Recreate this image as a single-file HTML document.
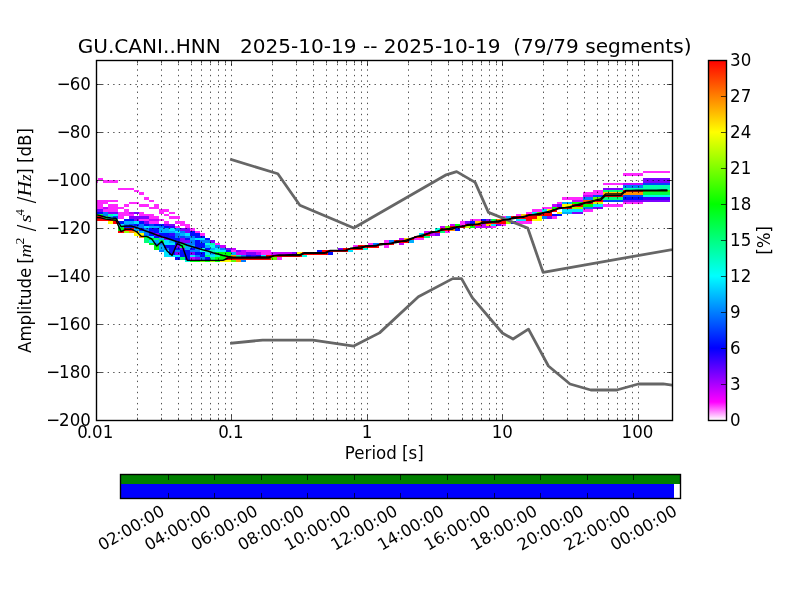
<!DOCTYPE html><html><head><meta charset="utf-8"><title>PPSD</title><style>html,body{margin:0;padding:0;background:#fff;}svg{display:block;will-change:transform;}text{white-space:pre;}</style></head><body>
<svg width="800" height="600" viewBox="0 0 800 600" font-family="&apos;DejaVu Sans&apos;,&apos;Liberation Sans&apos;,sans-serif" font-size="16.67">
<rect x="0" y="0" width="800" height="600" fill="#fff"/>
<defs><clipPath id="ax"><rect x="96.00" y="60.00" width="576.00" height="360.00"/></clipPath>
<linearGradient id="cbg" x1="0" y1="1" x2="0" y2="0">
<stop offset="0.000" stop-color="#ffffff"/>
<stop offset="0.050" stop-color="#ff00ff"/>
<stop offset="0.200" stop-color="#0000ff"/>
<stop offset="0.400" stop-color="#00ffff"/>
<stop offset="0.600" stop-color="#00ff00"/>
<stop offset="0.800" stop-color="#ffff00"/>
<stop offset="1.000" stop-color="#ff0000"/>
</linearGradient></defs>
<g clip-path="url(#ax)" shape-rendering="crispEdges">
<rect x="96" y="216" width="2" height="5" fill="#ff0000"/>
<rect x="96" y="214" width="2" height="2" fill="#00ff42"/>
<rect x="96" y="212" width="2" height="2" fill="#000eff"/>
<rect x="96" y="209" width="2" height="3" fill="#7d00ff"/>
<rect x="96" y="200" width="2" height="9" fill="#ff28ff"/>
<rect x="96" y="180" width="2" height="3" fill="#ff28ff"/>
<rect x="98" y="216" width="5" height="5" fill="#ff0000"/>
<rect x="98" y="214" width="5" height="2" fill="#00ff42"/>
<rect x="98" y="212" width="5" height="2" fill="#000eff"/>
<rect x="98" y="209" width="5" height="3" fill="#7d00ff"/>
<rect x="98" y="200" width="5" height="9" fill="#ff28ff"/>
<rect x="98" y="178" width="5" height="2" fill="#ff28ff"/>
<rect x="103" y="219" width="5" height="2" fill="#ff0000"/>
<rect x="103" y="216" width="5" height="3" fill="#00ff42"/>
<rect x="103" y="212" width="5" height="4" fill="#007aff"/>
<rect x="103" y="209" width="5" height="3" fill="#ff28ff"/>
<rect x="103" y="207" width="5" height="2" fill="#c500ff"/>
<rect x="103" y="200" width="5" height="4" fill="#ff28ff"/>
<rect x="103" y="180" width="5" height="3" fill="#ff28ff"/>
<rect x="108" y="221" width="5" height="3" fill="#fffd00"/>
<rect x="108" y="219" width="5" height="2" fill="#ff0000"/>
<rect x="108" y="216" width="5" height="3" fill="#00afff"/>
<rect x="108" y="214" width="5" height="2" fill="#00ffad"/>
<rect x="108" y="212" width="5" height="2" fill="#7d00ff"/>
<rect x="108" y="204" width="5" height="8" fill="#ff28ff"/>
<rect x="108" y="200" width="5" height="2" fill="#ff28ff"/>
<rect x="108" y="180" width="5" height="3" fill="#ff28ff"/>
<rect x="113" y="221" width="5" height="3" fill="#ff0000"/>
<rect x="113" y="219" width="5" height="2" fill="#00ff42"/>
<rect x="113" y="216" width="5" height="3" fill="#0044ff"/>
<rect x="113" y="214" width="5" height="2" fill="#00ffe3"/>
<rect x="113" y="212" width="5" height="2" fill="#7d00ff"/>
<rect x="113" y="204" width="5" height="8" fill="#ff28ff"/>
<rect x="113" y="200" width="5" height="2" fill="#ff28ff"/>
<rect x="113" y="180" width="5" height="3" fill="#ff28ff"/>
<rect x="118" y="231" width="6" height="2" fill="#ff0000"/>
<rect x="118" y="228" width="6" height="3" fill="#00ff0c"/>
<rect x="118" y="226" width="6" height="2" fill="#00ff42"/>
<rect x="118" y="224" width="6" height="2" fill="#00e5ff"/>
<rect x="118" y="221" width="6" height="3" fill="#000eff"/>
<rect x="118" y="212" width="6" height="7" fill="#ff28ff"/>
<rect x="118" y="207" width="6" height="2" fill="#ff28ff"/>
<rect x="118" y="188" width="6" height="2" fill="#ff28ff"/>
<rect x="124" y="231" width="5" height="2" fill="#96ff00"/>
<rect x="124" y="228" width="5" height="3" fill="#ff0000"/>
<rect x="124" y="226" width="5" height="2" fill="#000eff"/>
<rect x="124" y="224" width="5" height="2" fill="#007aff"/>
<rect x="124" y="221" width="5" height="3" fill="#00afff"/>
<rect x="124" y="219" width="5" height="2" fill="#000eff"/>
<rect x="124" y="209" width="5" height="7" fill="#ff28ff"/>
<rect x="124" y="204" width="5" height="3" fill="#ff28ff"/>
<rect x="124" y="188" width="5" height="2" fill="#ff28ff"/>
<rect x="129" y="231" width="5" height="2" fill="#ff9100"/>
<rect x="129" y="228" width="5" height="3" fill="#ff0000"/>
<rect x="129" y="226" width="5" height="2" fill="#000eff"/>
<rect x="129" y="224" width="5" height="2" fill="#0044ff"/>
<rect x="129" y="221" width="5" height="3" fill="#00afff"/>
<rect x="129" y="219" width="5" height="2" fill="#000eff"/>
<rect x="129" y="216" width="5" height="3" fill="#7d00ff"/>
<rect x="129" y="214" width="5" height="2" fill="#ff28ff"/>
<rect x="129" y="212" width="5" height="2" fill="#c500ff"/>
<rect x="129" y="202" width="5" height="2" fill="#ff28ff"/>
<rect x="129" y="188" width="5" height="2" fill="#ff28ff"/>
<rect x="134" y="233" width="5" height="3" fill="#fffd00"/>
<rect x="134" y="231" width="5" height="2" fill="#ffc700"/>
<rect x="134" y="228" width="5" height="3" fill="#00afff"/>
<rect x="134" y="226" width="5" height="2" fill="#007aff"/>
<rect x="134" y="224" width="5" height="2" fill="#000eff"/>
<rect x="134" y="221" width="5" height="3" fill="#00e5ff"/>
<rect x="134" y="216" width="5" height="5" fill="#7d00ff"/>
<rect x="134" y="212" width="5" height="2" fill="#7d00ff"/>
<rect x="134" y="202" width="5" height="2" fill="#ff28ff"/>
<rect x="134" y="190" width="5" height="2" fill="#ff28ff"/>
<rect x="139" y="236" width="5" height="2" fill="#ff9100"/>
<rect x="139" y="233" width="5" height="3" fill="#fffd00"/>
<rect x="139" y="231" width="5" height="2" fill="#00afff"/>
<rect x="139" y="228" width="5" height="3" fill="#000eff"/>
<rect x="139" y="224" width="5" height="4" fill="#007aff"/>
<rect x="139" y="221" width="5" height="3" fill="#000eff"/>
<rect x="139" y="219" width="5" height="2" fill="#ff28ff"/>
<rect x="139" y="216" width="5" height="3" fill="#7d00ff"/>
<rect x="139" y="212" width="5" height="4" fill="#ff28ff"/>
<rect x="139" y="204" width="5" height="3" fill="#ff28ff"/>
<rect x="139" y="192" width="5" height="3" fill="#ff28ff"/>
<rect x="144" y="238" width="5" height="5" fill="#00ff77"/>
<rect x="144" y="236" width="5" height="2" fill="#00ff0c"/>
<rect x="144" y="228" width="5" height="8" fill="#007aff"/>
<rect x="144" y="226" width="5" height="2" fill="#00e5ff"/>
<rect x="144" y="224" width="5" height="2" fill="#000eff"/>
<rect x="144" y="221" width="5" height="3" fill="#7d00ff"/>
<rect x="144" y="219" width="5" height="2" fill="#ff28ff"/>
<rect x="144" y="216" width="5" height="3" fill="#7d00ff"/>
<rect x="144" y="214" width="5" height="2" fill="#ff28ff"/>
<rect x="144" y="204" width="5" height="3" fill="#ff28ff"/>
<rect x="144" y="197" width="5" height="3" fill="#ff28ff"/>
<rect x="149" y="243" width="5" height="2" fill="#00ff0c"/>
<rect x="149" y="240" width="5" height="3" fill="#00e5ff"/>
<rect x="149" y="238" width="5" height="2" fill="#00ff0c"/>
<rect x="149" y="236" width="5" height="2" fill="#00e5ff"/>
<rect x="149" y="233" width="5" height="3" fill="#000eff"/>
<rect x="149" y="231" width="5" height="2" fill="#3500ff"/>
<rect x="149" y="228" width="5" height="3" fill="#000eff"/>
<rect x="149" y="226" width="5" height="2" fill="#00afff"/>
<rect x="149" y="224" width="5" height="2" fill="#0044ff"/>
<rect x="149" y="221" width="5" height="3" fill="#ff28ff"/>
<rect x="149" y="219" width="5" height="2" fill="#c500ff"/>
<rect x="149" y="214" width="5" height="5" fill="#ff28ff"/>
<rect x="149" y="207" width="5" height="2" fill="#ff28ff"/>
<rect x="149" y="200" width="5" height="2" fill="#ff28ff"/>
<rect x="154" y="245" width="5" height="5" fill="#00ff0c"/>
<rect x="154" y="243" width="5" height="2" fill="#007aff"/>
<rect x="154" y="240" width="5" height="3" fill="#00afff"/>
<rect x="154" y="238" width="5" height="2" fill="#00ff77"/>
<rect x="154" y="236" width="5" height="2" fill="#000eff"/>
<rect x="154" y="233" width="5" height="3" fill="#7d00ff"/>
<rect x="154" y="228" width="5" height="5" fill="#000eff"/>
<rect x="154" y="226" width="5" height="2" fill="#00afff"/>
<rect x="154" y="224" width="5" height="2" fill="#000eff"/>
<rect x="154" y="221" width="5" height="3" fill="#ff28ff"/>
<rect x="154" y="219" width="5" height="2" fill="#c500ff"/>
<rect x="154" y="216" width="5" height="3" fill="#ff28ff"/>
<rect x="154" y="204" width="5" height="5" fill="#ff28ff"/>
<rect x="159" y="250" width="5" height="2" fill="#007aff"/>
<rect x="159" y="245" width="5" height="5" fill="#00afff"/>
<rect x="159" y="243" width="5" height="2" fill="#007aff"/>
<rect x="159" y="240" width="5" height="3" fill="#00ff42"/>
<rect x="159" y="238" width="5" height="2" fill="#00afff"/>
<rect x="159" y="236" width="5" height="2" fill="#7d00ff"/>
<rect x="159" y="233" width="5" height="3" fill="#000eff"/>
<rect x="159" y="228" width="5" height="5" fill="#00afff"/>
<rect x="159" y="226" width="5" height="2" fill="#007aff"/>
<rect x="159" y="224" width="5" height="2" fill="#000eff"/>
<rect x="159" y="219" width="5" height="2" fill="#ff28ff"/>
<rect x="159" y="209" width="5" height="5" fill="#ff28ff"/>
<rect x="164" y="250" width="5" height="7" fill="#00e5ff"/>
<rect x="164" y="248" width="5" height="2" fill="#007aff"/>
<rect x="164" y="245" width="5" height="3" fill="#000eff"/>
<rect x="164" y="240" width="5" height="5" fill="#00e5ff"/>
<rect x="164" y="238" width="5" height="2" fill="#7d00ff"/>
<rect x="164" y="233" width="5" height="5" fill="#000eff"/>
<rect x="164" y="228" width="5" height="5" fill="#00afff"/>
<rect x="164" y="226" width="5" height="2" fill="#000eff"/>
<rect x="164" y="224" width="5" height="2" fill="#7d00ff"/>
<rect x="164" y="221" width="5" height="3" fill="#ff28ff"/>
<rect x="164" y="214" width="5" height="2" fill="#ff28ff"/>
<rect x="164" y="209" width="5" height="3" fill="#ff28ff"/>
<rect x="169" y="255" width="6" height="2" fill="#00e5ff"/>
<rect x="169" y="245" width="6" height="10" fill="#000eff"/>
<rect x="169" y="243" width="6" height="2" fill="#00e5ff"/>
<rect x="169" y="240" width="6" height="3" fill="#00afff"/>
<rect x="169" y="236" width="6" height="4" fill="#000eff"/>
<rect x="169" y="233" width="6" height="3" fill="#3500ff"/>
<rect x="169" y="231" width="6" height="2" fill="#00afff"/>
<rect x="169" y="228" width="6" height="3" fill="#00e5ff"/>
<rect x="169" y="226" width="6" height="2" fill="#3500ff"/>
<rect x="169" y="224" width="6" height="2" fill="#7d00ff"/>
<rect x="169" y="216" width="6" height="3" fill="#ff28ff"/>
<rect x="169" y="212" width="6" height="2" fill="#ff28ff"/>
<rect x="175" y="257" width="5" height="3" fill="#000eff"/>
<rect x="175" y="255" width="5" height="2" fill="#00e5ff"/>
<rect x="175" y="252" width="5" height="3" fill="#7d00ff"/>
<rect x="175" y="250" width="5" height="2" fill="#007aff"/>
<rect x="175" y="248" width="5" height="2" fill="#000eff"/>
<rect x="175" y="245" width="5" height="3" fill="#7d00ff"/>
<rect x="175" y="238" width="5" height="7" fill="#000eff"/>
<rect x="175" y="233" width="5" height="5" fill="#007aff"/>
<rect x="175" y="231" width="5" height="2" fill="#00e5ff"/>
<rect x="175" y="228" width="5" height="3" fill="#007aff"/>
<rect x="175" y="226" width="5" height="2" fill="#ff28ff"/>
<rect x="175" y="221" width="5" height="3" fill="#ff28ff"/>
<rect x="175" y="216" width="5" height="3" fill="#ff28ff"/>
<rect x="180" y="257" width="5" height="3" fill="#00ff77"/>
<rect x="180" y="250" width="5" height="7" fill="#000eff"/>
<rect x="180" y="248" width="5" height="2" fill="#7d00ff"/>
<rect x="180" y="245" width="5" height="3" fill="#00ff42"/>
<rect x="180" y="243" width="5" height="2" fill="#00ff77"/>
<rect x="180" y="238" width="5" height="5" fill="#7d00ff"/>
<rect x="180" y="236" width="5" height="2" fill="#0044ff"/>
<rect x="180" y="233" width="5" height="3" fill="#00afff"/>
<rect x="180" y="231" width="5" height="2" fill="#007aff"/>
<rect x="180" y="228" width="5" height="3" fill="#7d00ff"/>
<rect x="180" y="221" width="5" height="5" fill="#ff28ff"/>
<rect x="185" y="260" width="5" height="2" fill="#00ffe3"/>
<rect x="185" y="250" width="5" height="10" fill="#000eff"/>
<rect x="185" y="245" width="5" height="5" fill="#00afff"/>
<rect x="185" y="243" width="5" height="2" fill="#007aff"/>
<rect x="185" y="240" width="5" height="3" fill="#7d00ff"/>
<rect x="185" y="238" width="5" height="2" fill="#000eff"/>
<rect x="185" y="236" width="5" height="2" fill="#007aff"/>
<rect x="185" y="233" width="5" height="3" fill="#00e5ff"/>
<rect x="185" y="228" width="5" height="5" fill="#7d00ff"/>
<rect x="185" y="224" width="5" height="4" fill="#ff28ff"/>
<rect x="190" y="260" width="5" height="2" fill="#00ff0c"/>
<rect x="190" y="257" width="5" height="3" fill="#c500ff"/>
<rect x="190" y="255" width="5" height="2" fill="#00e5ff"/>
<rect x="190" y="252" width="5" height="3" fill="#7d00ff"/>
<rect x="190" y="250" width="5" height="2" fill="#007aff"/>
<rect x="190" y="248" width="5" height="2" fill="#000eff"/>
<rect x="190" y="245" width="5" height="3" fill="#00afff"/>
<rect x="190" y="240" width="5" height="5" fill="#007aff"/>
<rect x="190" y="238" width="5" height="2" fill="#00afff"/>
<rect x="190" y="236" width="5" height="2" fill="#007aff"/>
<rect x="190" y="231" width="5" height="5" fill="#000eff"/>
<rect x="190" y="228" width="5" height="3" fill="#ff28ff"/>
<rect x="195" y="260" width="5" height="2" fill="#00ff0c"/>
<rect x="195" y="257" width="5" height="3" fill="#7d00ff"/>
<rect x="195" y="255" width="5" height="2" fill="#007aff"/>
<rect x="195" y="252" width="5" height="3" fill="#000eff"/>
<rect x="195" y="248" width="5" height="4" fill="#007aff"/>
<rect x="195" y="240" width="5" height="8" fill="#000eff"/>
<rect x="195" y="238" width="5" height="2" fill="#00e5ff"/>
<rect x="195" y="233" width="5" height="5" fill="#000eff"/>
<rect x="195" y="231" width="5" height="2" fill="#ff28ff"/>
<rect x="200" y="260" width="5" height="2" fill="#60ff00"/>
<rect x="200" y="257" width="5" height="3" fill="#007aff"/>
<rect x="200" y="252" width="5" height="5" fill="#000eff"/>
<rect x="200" y="248" width="5" height="4" fill="#00ffe3"/>
<rect x="200" y="243" width="5" height="5" fill="#000eff"/>
<rect x="200" y="240" width="5" height="3" fill="#007aff"/>
<rect x="200" y="238" width="5" height="2" fill="#00e5ff"/>
<rect x="200" y="236" width="5" height="2" fill="#000eff"/>
<rect x="200" y="233" width="5" height="3" fill="#ff28ff"/>
<rect x="205" y="260" width="5" height="2" fill="#00ff0c"/>
<rect x="205" y="257" width="5" height="3" fill="#000eff"/>
<rect x="205" y="255" width="5" height="2" fill="#00ff77"/>
<rect x="205" y="252" width="5" height="3" fill="#00e5ff"/>
<rect x="205" y="250" width="5" height="2" fill="#00ffad"/>
<rect x="205" y="248" width="5" height="2" fill="#000eff"/>
<rect x="205" y="245" width="5" height="3" fill="#00afff"/>
<rect x="205" y="243" width="5" height="2" fill="#00ffe3"/>
<rect x="205" y="240" width="5" height="3" fill="#007aff"/>
<rect x="205" y="238" width="5" height="2" fill="#000eff"/>
<rect x="210" y="260" width="5" height="2" fill="#96ff00"/>
<rect x="210" y="257" width="5" height="3" fill="#00ff77"/>
<rect x="210" y="255" width="5" height="2" fill="#00e5ff"/>
<rect x="210" y="252" width="5" height="3" fill="#00afff"/>
<rect x="210" y="250" width="5" height="2" fill="#00ffad"/>
<rect x="210" y="248" width="5" height="2" fill="#00afff"/>
<rect x="210" y="245" width="5" height="3" fill="#00ffe3"/>
<rect x="210" y="243" width="5" height="2" fill="#00ffad"/>
<rect x="210" y="240" width="5" height="3" fill="#7d00ff"/>
<rect x="215" y="257" width="5" height="5" fill="#00ff0c"/>
<rect x="215" y="255" width="5" height="2" fill="#00ffad"/>
<rect x="215" y="252" width="5" height="3" fill="#00ff0c"/>
<rect x="215" y="250" width="5" height="2" fill="#00ffe3"/>
<rect x="215" y="248" width="5" height="2" fill="#00e5ff"/>
<rect x="215" y="245" width="5" height="3" fill="#007aff"/>
<rect x="215" y="243" width="5" height="2" fill="#ff28ff"/>
<rect x="220" y="260" width="6" height="2" fill="#fffd00"/>
<rect x="220" y="252" width="6" height="8" fill="#00ff0c"/>
<rect x="220" y="250" width="6" height="2" fill="#00e5ff"/>
<rect x="220" y="248" width="6" height="2" fill="#007aff"/>
<rect x="220" y="245" width="6" height="3" fill="#c500ff"/>
<rect x="226" y="260" width="5" height="2" fill="#fffd00"/>
<rect x="226" y="257" width="5" height="3" fill="#ff0000"/>
<rect x="226" y="252" width="5" height="5" fill="#00ff0c"/>
<rect x="226" y="250" width="5" height="2" fill="#000eff"/>
<rect x="226" y="248" width="5" height="2" fill="#7d00ff"/>
<rect x="231" y="260" width="5" height="2" fill="#60ff00"/>
<rect x="231" y="257" width="5" height="3" fill="#ff0000"/>
<rect x="231" y="255" width="5" height="2" fill="#ff9100"/>
<rect x="231" y="252" width="5" height="3" fill="#00afff"/>
<rect x="231" y="250" width="5" height="2" fill="#ff28ff"/>
<rect x="231" y="248" width="5" height="2" fill="#c500ff"/>
<rect x="236" y="260" width="5" height="2" fill="#ff9100"/>
<rect x="236" y="257" width="5" height="3" fill="#ff0000"/>
<rect x="236" y="255" width="5" height="2" fill="#00ffad"/>
<rect x="236" y="252" width="5" height="3" fill="#c500ff"/>
<rect x="236" y="250" width="5" height="2" fill="#7d00ff"/>
<rect x="241" y="260" width="5" height="2" fill="#007aff"/>
<rect x="241" y="257" width="5" height="3" fill="#ff0000"/>
<rect x="241" y="255" width="5" height="2" fill="#007aff"/>
<rect x="241" y="250" width="5" height="5" fill="#c500ff"/>
<rect x="246" y="257" width="5" height="3" fill="#ff0000"/>
<rect x="246" y="255" width="5" height="2" fill="#000eff"/>
<rect x="246" y="252" width="5" height="3" fill="#7d00ff"/>
<rect x="246" y="250" width="5" height="2" fill="#ff28ff"/>
<rect x="251" y="257" width="5" height="3" fill="#ff0000"/>
<rect x="251" y="255" width="5" height="2" fill="#3500ff"/>
<rect x="251" y="252" width="5" height="3" fill="#7d00ff"/>
<rect x="251" y="250" width="5" height="2" fill="#ff28ff"/>
<rect x="256" y="257" width="5" height="3" fill="#ff0000"/>
<rect x="256" y="255" width="5" height="2" fill="#000eff"/>
<rect x="256" y="252" width="5" height="3" fill="#c500ff"/>
<rect x="256" y="250" width="5" height="2" fill="#ff28ff"/>
<rect x="261" y="257" width="5" height="3" fill="#ff0000"/>
<rect x="261" y="255" width="5" height="2" fill="#00e5ff"/>
<rect x="261" y="250" width="5" height="5" fill="#ff28ff"/>
<rect x="266" y="255" width="5" height="5" fill="#ff0000"/>
<rect x="266" y="250" width="5" height="5" fill="#ff28ff"/>
<rect x="271" y="257" width="6" height="3" fill="#60ff00"/>
<rect x="271" y="255" width="6" height="2" fill="#ff0000"/>
<rect x="271" y="252" width="6" height="3" fill="#c500ff"/>
<rect x="277" y="257" width="5" height="3" fill="#ff28ff"/>
<rect x="277" y="255" width="5" height="2" fill="#ff0000"/>
<rect x="277" y="252" width="5" height="3" fill="#c500ff"/>
<rect x="282" y="255" width="5" height="2" fill="#ff0000"/>
<rect x="282" y="252" width="5" height="3" fill="#c500ff"/>
<rect x="287" y="255" width="5" height="2" fill="#ff0000"/>
<rect x="287" y="252" width="5" height="3" fill="#c500ff"/>
<rect x="292" y="255" width="5" height="2" fill="#ff0000"/>
<rect x="292" y="252" width="5" height="3" fill="#7d00ff"/>
<rect x="297" y="255" width="5" height="2" fill="#ff0000"/>
<rect x="297" y="252" width="5" height="3" fill="#fffd00"/>
<rect x="302" y="255" width="5" height="2" fill="#00ffe3"/>
<rect x="302" y="252" width="5" height="3" fill="#ff0000"/>
<rect x="307" y="252" width="5" height="3" fill="#ff0000"/>
<rect x="312" y="252" width="5" height="3" fill="#ff0000"/>
<rect x="317" y="252" width="5" height="3" fill="#ff0000"/>
<rect x="317" y="250" width="5" height="2" fill="#000eff"/>
<rect x="322" y="250" width="6" height="5" fill="#ff0000"/>
<rect x="328" y="252" width="5" height="3" fill="#000eff"/>
<rect x="328" y="250" width="5" height="2" fill="#ff0000"/>
<rect x="333" y="250" width="5" height="2" fill="#ff0000"/>
<rect x="338" y="250" width="5" height="2" fill="#ff0000"/>
<rect x="338" y="248" width="5" height="2" fill="#7d00ff"/>
<rect x="343" y="248" width="5" height="4" fill="#ff0000"/>
<rect x="348" y="250" width="5" height="2" fill="#00e5ff"/>
<rect x="348" y="248" width="5" height="2" fill="#ff0000"/>
<rect x="353" y="248" width="5" height="2" fill="#ff0000"/>
<rect x="353" y="245" width="5" height="3" fill="#ff28ff"/>
<rect x="358" y="245" width="5" height="5" fill="#ff0000"/>
<rect x="363" y="248" width="5" height="2" fill="#00ffe3"/>
<rect x="363" y="245" width="5" height="3" fill="#ff0000"/>
<rect x="368" y="245" width="5" height="3" fill="#ff0000"/>
<rect x="368" y="243" width="5" height="2" fill="#ff28ff"/>
<rect x="373" y="245" width="6" height="3" fill="#ff0000"/>
<rect x="373" y="243" width="6" height="2" fill="#007aff"/>
<rect x="379" y="243" width="5" height="2" fill="#ff0000"/>
<rect x="384" y="245" width="5" height="3" fill="#ff28ff"/>
<rect x="384" y="243" width="5" height="2" fill="#ff0000"/>
<rect x="384" y="240" width="5" height="3" fill="#ff28ff"/>
<rect x="389" y="243" width="5" height="2" fill="#ff0000"/>
<rect x="389" y="240" width="5" height="3" fill="#007aff"/>
<rect x="394" y="240" width="5" height="3" fill="#ff0000"/>
<rect x="399" y="243" width="5" height="2" fill="#c500ff"/>
<rect x="399" y="240" width="5" height="3" fill="#ff0000"/>
<rect x="399" y="238" width="5" height="2" fill="#c500ff"/>
<rect x="404" y="240" width="5" height="3" fill="#ff0000"/>
<rect x="404" y="238" width="5" height="2" fill="#ffc700"/>
<rect x="409" y="240" width="5" height="3" fill="#00afff"/>
<rect x="409" y="238" width="5" height="2" fill="#ff0000"/>
<rect x="414" y="238" width="5" height="2" fill="#ff28ff"/>
<rect x="414" y="236" width="5" height="2" fill="#ff0000"/>
<rect x="419" y="238" width="5" height="2" fill="#ff28ff"/>
<rect x="419" y="236" width="5" height="2" fill="#ff0000"/>
<rect x="419" y="233" width="5" height="3" fill="#00e5ff"/>
<rect x="424" y="236" width="6" height="2" fill="#00ff77"/>
<rect x="424" y="233" width="6" height="3" fill="#ff0000"/>
<rect x="424" y="231" width="6" height="2" fill="#c500ff"/>
<rect x="430" y="233" width="5" height="3" fill="#c500ff"/>
<rect x="430" y="231" width="5" height="2" fill="#ff0000"/>
<rect x="435" y="233" width="5" height="3" fill="#7d00ff"/>
<rect x="435" y="231" width="5" height="2" fill="#ff0000"/>
<rect x="435" y="228" width="5" height="3" fill="#00ffe3"/>
<rect x="440" y="231" width="5" height="2" fill="#00ff77"/>
<rect x="440" y="228" width="5" height="3" fill="#ff0000"/>
<rect x="440" y="226" width="5" height="2" fill="#c500ff"/>
<rect x="445" y="231" width="5" height="2" fill="#ff28ff"/>
<rect x="445" y="228" width="5" height="3" fill="#ff0000"/>
<rect x="445" y="226" width="5" height="2" fill="#60ff00"/>
<rect x="450" y="228" width="5" height="3" fill="#ff9100"/>
<rect x="450" y="226" width="5" height="2" fill="#ff0000"/>
<rect x="450" y="224" width="5" height="2" fill="#c500ff"/>
<rect x="455" y="228" width="5" height="3" fill="#000eff"/>
<rect x="455" y="226" width="5" height="2" fill="#ff0000"/>
<rect x="455" y="224" width="5" height="2" fill="#00ff0c"/>
<rect x="460" y="226" width="5" height="2" fill="#ff0000"/>
<rect x="460" y="221" width="5" height="5" fill="#ff28ff"/>
<rect x="465" y="226" width="5" height="2" fill="#cbff00"/>
<rect x="465" y="224" width="5" height="2" fill="#ff0000"/>
<rect x="465" y="221" width="5" height="3" fill="#7d00ff"/>
<rect x="470" y="226" width="5" height="2" fill="#00ff0c"/>
<rect x="470" y="224" width="5" height="2" fill="#ff0000"/>
<rect x="470" y="221" width="5" height="3" fill="#000eff"/>
<rect x="470" y="219" width="5" height="2" fill="#ff28ff"/>
<rect x="475" y="226" width="6" height="2" fill="#c500ff"/>
<rect x="475" y="224" width="6" height="2" fill="#ff0000"/>
<rect x="475" y="221" width="6" height="3" fill="#ffc700"/>
<rect x="475" y="219" width="6" height="2" fill="#ff28ff"/>
<rect x="481" y="224" width="5" height="4" fill="#c500ff"/>
<rect x="481" y="221" width="5" height="3" fill="#ff0000"/>
<rect x="481" y="219" width="5" height="2" fill="#000eff"/>
<rect x="486" y="226" width="5" height="2" fill="#c500ff"/>
<rect x="486" y="224" width="5" height="2" fill="#ffc700"/>
<rect x="486" y="221" width="5" height="3" fill="#ff0000"/>
<rect x="486" y="219" width="5" height="2" fill="#7d00ff"/>
<rect x="491" y="226" width="5" height="2" fill="#ff28ff"/>
<rect x="491" y="224" width="5" height="2" fill="#00e5ff"/>
<rect x="491" y="221" width="5" height="3" fill="#ff0000"/>
<rect x="491" y="219" width="5" height="2" fill="#00ff42"/>
<rect x="496" y="224" width="5" height="2" fill="#7d00ff"/>
<rect x="496" y="221" width="5" height="3" fill="#ff0000"/>
<rect x="496" y="219" width="5" height="2" fill="#ff9100"/>
<rect x="501" y="224" width="5" height="2" fill="#ff28ff"/>
<rect x="501" y="219" width="5" height="5" fill="#ff0000"/>
<rect x="501" y="216" width="5" height="3" fill="#ff28ff"/>
<rect x="506" y="221" width="5" height="3" fill="#96ff00"/>
<rect x="506" y="219" width="5" height="2" fill="#ff0000"/>
<rect x="506" y="216" width="5" height="3" fill="#00afff"/>
<rect x="511" y="221" width="5" height="3" fill="#000eff"/>
<rect x="511" y="216" width="5" height="3" fill="#ff0000"/>
<rect x="516" y="221" width="5" height="3" fill="#ff28ff"/>
<rect x="516" y="219" width="5" height="2" fill="#00e5ff"/>
<rect x="516" y="216" width="5" height="3" fill="#ff0000"/>
<rect x="516" y="214" width="5" height="2" fill="#ff28ff"/>
<rect x="521" y="221" width="5" height="3" fill="#ff28ff"/>
<rect x="521" y="219" width="5" height="2" fill="#00e5ff"/>
<rect x="521" y="216" width="5" height="3" fill="#ff0000"/>
<rect x="521" y="214" width="5" height="2" fill="#ffc700"/>
<rect x="526" y="221" width="6" height="3" fill="#ff28ff"/>
<rect x="526" y="214" width="6" height="7" fill="#ff0000"/>
<rect x="526" y="212" width="6" height="2" fill="#ff28ff"/>
<rect x="532" y="219" width="5" height="2" fill="#fffd00"/>
<rect x="532" y="214" width="5" height="5" fill="#ff0000"/>
<rect x="532" y="212" width="5" height="2" fill="#00e5ff"/>
<rect x="532" y="209" width="5" height="3" fill="#ff28ff"/>
<rect x="537" y="216" width="5" height="5" fill="#fffd00"/>
<rect x="537" y="214" width="5" height="2" fill="#ff0000"/>
<rect x="537" y="212" width="5" height="2" fill="#60ff00"/>
<rect x="537" y="209" width="5" height="3" fill="#ff28ff"/>
<rect x="542" y="216" width="5" height="3" fill="#007aff"/>
<rect x="542" y="212" width="5" height="4" fill="#ff0000"/>
<rect x="542" y="209" width="5" height="3" fill="#00e5ff"/>
<rect x="542" y="207" width="5" height="2" fill="#ff28ff"/>
<rect x="547" y="216" width="5" height="3" fill="#7d00ff"/>
<rect x="547" y="212" width="5" height="4" fill="#ff0000"/>
<rect x="547" y="209" width="5" height="3" fill="#fffd00"/>
<rect x="547" y="207" width="5" height="2" fill="#ff28ff"/>
<rect x="552" y="216" width="5" height="3" fill="#ff28ff"/>
<rect x="552" y="214" width="5" height="2" fill="#000eff"/>
<rect x="552" y="209" width="5" height="3" fill="#ff0000"/>
<rect x="552" y="207" width="5" height="2" fill="#00ff0c"/>
<rect x="552" y="204" width="5" height="3" fill="#c500ff"/>
<rect x="557" y="214" width="5" height="2" fill="#000eff"/>
<rect x="557" y="212" width="5" height="2" fill="#fffd00"/>
<rect x="557" y="207" width="5" height="2" fill="#ff0000"/>
<rect x="557" y="204" width="5" height="3" fill="#7d00ff"/>
<rect x="557" y="202" width="5" height="2" fill="#ff28ff"/>
<rect x="562" y="212" width="5" height="2" fill="#00afff"/>
<rect x="562" y="209" width="5" height="3" fill="#00e5ff"/>
<rect x="562" y="207" width="5" height="2" fill="#ff0000"/>
<rect x="562" y="204" width="5" height="3" fill="#fffd00"/>
<rect x="562" y="202" width="5" height="2" fill="#00afff"/>
<rect x="562" y="197" width="5" height="3" fill="#ff28ff"/>
<rect x="567" y="212" width="5" height="2" fill="#00afff"/>
<rect x="567" y="209" width="5" height="3" fill="#00e5ff"/>
<rect x="567" y="207" width="5" height="2" fill="#ff0000"/>
<rect x="567" y="204" width="5" height="3" fill="#fffd00"/>
<rect x="567" y="202" width="5" height="2" fill="#00afff"/>
<rect x="567" y="197" width="5" height="3" fill="#ff28ff"/>
<rect x="572" y="212" width="5" height="2" fill="#7d00ff"/>
<rect x="572" y="209" width="5" height="3" fill="#00e5ff"/>
<rect x="572" y="207" width="5" height="2" fill="#96ff00"/>
<rect x="572" y="204" width="5" height="3" fill="#ff0000"/>
<rect x="572" y="202" width="5" height="2" fill="#00ff0c"/>
<rect x="572" y="200" width="5" height="2" fill="#c500ff"/>
<rect x="572" y="197" width="5" height="3" fill="#ff28ff"/>
<rect x="577" y="212" width="6" height="2" fill="#7d00ff"/>
<rect x="577" y="209" width="6" height="3" fill="#00e5ff"/>
<rect x="577" y="207" width="6" height="2" fill="#96ff00"/>
<rect x="577" y="204" width="6" height="3" fill="#ff0000"/>
<rect x="577" y="202" width="6" height="2" fill="#00ff0c"/>
<rect x="577" y="200" width="6" height="2" fill="#c500ff"/>
<rect x="577" y="197" width="6" height="3" fill="#ff28ff"/>
<rect x="583" y="209" width="5" height="3" fill="#ff28ff"/>
<rect x="583" y="207" width="5" height="2" fill="#007aff"/>
<rect x="583" y="204" width="5" height="3" fill="#00ff0c"/>
<rect x="583" y="202" width="5" height="2" fill="#ff0000"/>
<rect x="583" y="200" width="5" height="2" fill="#ff5b00"/>
<rect x="583" y="197" width="5" height="3" fill="#007aff"/>
<rect x="583" y="195" width="5" height="2" fill="#c500ff"/>
<rect x="583" y="192" width="5" height="3" fill="#ff28ff"/>
<rect x="588" y="209" width="5" height="3" fill="#ff28ff"/>
<rect x="588" y="207" width="5" height="2" fill="#007aff"/>
<rect x="588" y="204" width="5" height="3" fill="#00ff0c"/>
<rect x="588" y="202" width="5" height="2" fill="#ff0000"/>
<rect x="588" y="200" width="5" height="2" fill="#ff5b00"/>
<rect x="588" y="197" width="5" height="3" fill="#007aff"/>
<rect x="588" y="195" width="5" height="2" fill="#c500ff"/>
<rect x="588" y="192" width="5" height="3" fill="#ff28ff"/>
<rect x="593" y="207" width="5" height="2" fill="#7d00ff"/>
<rect x="593" y="204" width="5" height="3" fill="#00e5ff"/>
<rect x="593" y="202" width="5" height="2" fill="#cbff00"/>
<rect x="593" y="200" width="5" height="2" fill="#ff0000"/>
<rect x="593" y="197" width="5" height="3" fill="#60ff00"/>
<rect x="593" y="195" width="5" height="2" fill="#0044ff"/>
<rect x="593" y="190" width="5" height="5" fill="#ff28ff"/>
<rect x="598" y="207" width="5" height="2" fill="#7d00ff"/>
<rect x="598" y="204" width="5" height="3" fill="#00e5ff"/>
<rect x="598" y="202" width="5" height="2" fill="#cbff00"/>
<rect x="598" y="200" width="5" height="2" fill="#ff0000"/>
<rect x="598" y="197" width="5" height="3" fill="#60ff00"/>
<rect x="598" y="195" width="5" height="2" fill="#0044ff"/>
<rect x="598" y="190" width="5" height="5" fill="#ff28ff"/>
<rect x="603" y="204" width="5" height="3" fill="#ff28ff"/>
<rect x="603" y="200" width="5" height="2" fill="#0044ff"/>
<rect x="603" y="197" width="5" height="3" fill="#00ff77"/>
<rect x="603" y="195" width="5" height="2" fill="#ff0000"/>
<rect x="603" y="192" width="5" height="3" fill="#ffc700"/>
<rect x="603" y="190" width="5" height="2" fill="#00ff77"/>
<rect x="603" y="188" width="5" height="2" fill="#7d00ff"/>
<rect x="603" y="183" width="5" height="2" fill="#ff28ff"/>
<rect x="608" y="204" width="5" height="3" fill="#ff28ff"/>
<rect x="608" y="200" width="5" height="2" fill="#0044ff"/>
<rect x="608" y="197" width="5" height="3" fill="#00ff77"/>
<rect x="608" y="195" width="5" height="2" fill="#ff0000"/>
<rect x="608" y="192" width="5" height="3" fill="#ffc700"/>
<rect x="608" y="190" width="5" height="2" fill="#00ff77"/>
<rect x="608" y="188" width="5" height="2" fill="#7d00ff"/>
<rect x="608" y="183" width="5" height="2" fill="#ff28ff"/>
<rect x="613" y="204" width="5" height="3" fill="#ff28ff"/>
<rect x="613" y="200" width="5" height="2" fill="#0044ff"/>
<rect x="613" y="197" width="5" height="3" fill="#00ff77"/>
<rect x="613" y="195" width="5" height="2" fill="#ff0000"/>
<rect x="613" y="192" width="5" height="3" fill="#ffc700"/>
<rect x="613" y="190" width="5" height="2" fill="#00ff77"/>
<rect x="613" y="188" width="5" height="2" fill="#7d00ff"/>
<rect x="613" y="183" width="5" height="2" fill="#ff28ff"/>
<rect x="618" y="204" width="5" height="3" fill="#ff28ff"/>
<rect x="618" y="200" width="5" height="2" fill="#0044ff"/>
<rect x="618" y="197" width="5" height="3" fill="#00ff77"/>
<rect x="618" y="195" width="5" height="2" fill="#ff0000"/>
<rect x="618" y="192" width="5" height="3" fill="#ffc700"/>
<rect x="618" y="190" width="5" height="2" fill="#00ff77"/>
<rect x="618" y="188" width="5" height="2" fill="#7d00ff"/>
<rect x="618" y="183" width="5" height="2" fill="#ff28ff"/>
<rect x="623" y="202" width="5" height="2" fill="#ff28ff"/>
<rect x="623" y="200" width="5" height="2" fill="#7d00ff"/>
<rect x="623" y="197" width="5" height="3" fill="#000eff"/>
<rect x="623" y="195" width="5" height="2" fill="#0044ff"/>
<rect x="623" y="192" width="5" height="3" fill="#ff9100"/>
<rect x="623" y="190" width="5" height="2" fill="#ff0000"/>
<rect x="623" y="188" width="5" height="2" fill="#00ffad"/>
<rect x="623" y="185" width="5" height="3" fill="#007aff"/>
<rect x="623" y="183" width="5" height="2" fill="#c500ff"/>
<rect x="623" y="173" width="5" height="3" fill="#ff28ff"/>
<rect x="628" y="202" width="6" height="2" fill="#ff28ff"/>
<rect x="628" y="200" width="6" height="2" fill="#7d00ff"/>
<rect x="628" y="197" width="6" height="3" fill="#000eff"/>
<rect x="628" y="195" width="6" height="2" fill="#0044ff"/>
<rect x="628" y="192" width="6" height="3" fill="#ff9100"/>
<rect x="628" y="190" width="6" height="2" fill="#ff0000"/>
<rect x="628" y="188" width="6" height="2" fill="#00ffad"/>
<rect x="628" y="185" width="6" height="3" fill="#007aff"/>
<rect x="628" y="183" width="6" height="2" fill="#c500ff"/>
<rect x="628" y="173" width="6" height="3" fill="#ff28ff"/>
<rect x="634" y="202" width="5" height="2" fill="#ff28ff"/>
<rect x="634" y="200" width="5" height="2" fill="#7d00ff"/>
<rect x="634" y="197" width="5" height="3" fill="#000eff"/>
<rect x="634" y="195" width="5" height="2" fill="#0044ff"/>
<rect x="634" y="192" width="5" height="3" fill="#ff9100"/>
<rect x="634" y="190" width="5" height="2" fill="#ff0000"/>
<rect x="634" y="188" width="5" height="2" fill="#00ffad"/>
<rect x="634" y="185" width="5" height="3" fill="#007aff"/>
<rect x="634" y="183" width="5" height="2" fill="#c500ff"/>
<rect x="634" y="173" width="5" height="3" fill="#ff28ff"/>
<rect x="639" y="202" width="4" height="2" fill="#ff28ff"/>
<rect x="639" y="200" width="4" height="2" fill="#7d00ff"/>
<rect x="639" y="197" width="4" height="3" fill="#000eff"/>
<rect x="639" y="195" width="4" height="2" fill="#0044ff"/>
<rect x="639" y="192" width="4" height="3" fill="#ff9100"/>
<rect x="639" y="190" width="4" height="2" fill="#ff0000"/>
<rect x="639" y="188" width="4" height="2" fill="#00ffad"/>
<rect x="639" y="185" width="4" height="3" fill="#007aff"/>
<rect x="639" y="183" width="4" height="2" fill="#c500ff"/>
<rect x="639" y="173" width="4" height="3" fill="#ff28ff"/>
<rect x="643" y="200" width="6" height="2" fill="#7d00ff"/>
<rect x="643" y="197" width="6" height="3" fill="#3500ff"/>
<rect x="643" y="195" width="6" height="2" fill="#00ffe3"/>
<rect x="643" y="192" width="6" height="3" fill="#00ff42"/>
<rect x="643" y="190" width="6" height="2" fill="#2aff00"/>
<rect x="643" y="185" width="6" height="5" fill="#00ffad"/>
<rect x="643" y="183" width="6" height="2" fill="#0044ff"/>
<rect x="643" y="178" width="6" height="5" fill="#7d00ff"/>
<rect x="643" y="171" width="6" height="2" fill="#ff28ff"/>
<rect x="649" y="200" width="5" height="2" fill="#7d00ff"/>
<rect x="649" y="197" width="5" height="3" fill="#3500ff"/>
<rect x="649" y="195" width="5" height="2" fill="#00ffe3"/>
<rect x="649" y="192" width="5" height="3" fill="#00ff42"/>
<rect x="649" y="190" width="5" height="2" fill="#2aff00"/>
<rect x="649" y="185" width="5" height="5" fill="#00ffad"/>
<rect x="649" y="183" width="5" height="2" fill="#0044ff"/>
<rect x="649" y="178" width="5" height="5" fill="#7d00ff"/>
<rect x="649" y="171" width="5" height="2" fill="#ff28ff"/>
<rect x="654" y="200" width="5" height="2" fill="#7d00ff"/>
<rect x="654" y="197" width="5" height="3" fill="#3500ff"/>
<rect x="654" y="195" width="5" height="2" fill="#00ffe3"/>
<rect x="654" y="192" width="5" height="3" fill="#00ff42"/>
<rect x="654" y="190" width="5" height="2" fill="#2aff00"/>
<rect x="654" y="185" width="5" height="5" fill="#00ffad"/>
<rect x="654" y="183" width="5" height="2" fill="#0044ff"/>
<rect x="654" y="178" width="5" height="5" fill="#7d00ff"/>
<rect x="654" y="171" width="5" height="2" fill="#ff28ff"/>
<rect x="659" y="200" width="5" height="2" fill="#7d00ff"/>
<rect x="659" y="197" width="5" height="3" fill="#3500ff"/>
<rect x="659" y="195" width="5" height="2" fill="#00ffe3"/>
<rect x="659" y="192" width="5" height="3" fill="#00ff42"/>
<rect x="659" y="190" width="5" height="2" fill="#2aff00"/>
<rect x="659" y="185" width="5" height="5" fill="#00ffad"/>
<rect x="659" y="183" width="5" height="2" fill="#0044ff"/>
<rect x="659" y="178" width="5" height="5" fill="#7d00ff"/>
<rect x="659" y="171" width="5" height="2" fill="#ff28ff"/>
<rect x="664" y="200" width="6" height="2" fill="#7d00ff"/>
<rect x="664" y="197" width="6" height="3" fill="#3500ff"/>
<rect x="664" y="195" width="6" height="2" fill="#00ffe3"/>
<rect x="664" y="192" width="6" height="3" fill="#00ff42"/>
<rect x="664" y="190" width="6" height="2" fill="#2aff00"/>
<rect x="664" y="185" width="6" height="5" fill="#00ffad"/>
<rect x="664" y="183" width="6" height="2" fill="#0044ff"/>
<rect x="664" y="178" width="6" height="5" fill="#7d00ff"/>
<rect x="664" y="171" width="6" height="2" fill="#ff28ff"/>
</g>
<g stroke="#000" stroke-width="0.69" stroke-dasharray="1.39 4.17" fill="none">
<path d="M137.50 420.50V60.00" stroke-dashoffset="0.5"/>
<path d="M161.50 420.50V60.00" stroke-dashoffset="0.5"/>
<path d="M178.50 420.50V60.00" stroke-dashoffset="0.5"/>
<path d="M191.50 420.50V60.00" stroke-dashoffset="0.5"/>
<path d="M201.50 420.50V60.00" stroke-dashoffset="0.5"/>
<path d="M210.50 420.50V60.00" stroke-dashoffset="0.5"/>
<path d="M218.50 420.50V60.00" stroke-dashoffset="0.5"/>
<path d="M225.50 420.50V60.00" stroke-dashoffset="0.5"/>
<path d="M231.50 420.50V60.00" stroke-dashoffset="0.5"/>
<path d="M272.50 420.50V60.00" stroke-dashoffset="0.5"/>
<path d="M296.50 420.50V60.00" stroke-dashoffset="0.5"/>
<path d="M313.50 420.50V60.00" stroke-dashoffset="0.5"/>
<path d="M326.50 420.50V60.00" stroke-dashoffset="0.5"/>
<path d="M337.50 420.50V60.00" stroke-dashoffset="0.5"/>
<path d="M346.50 420.50V60.00" stroke-dashoffset="0.5"/>
<path d="M354.50 420.50V60.00" stroke-dashoffset="0.5"/>
<path d="M361.50 420.50V60.00" stroke-dashoffset="0.5"/>
<path d="M367.50 420.50V60.00" stroke-dashoffset="0.5"/>
<path d="M408.50 420.50V60.00" stroke-dashoffset="0.5"/>
<path d="M431.50 420.50V60.00" stroke-dashoffset="0.5"/>
<path d="M448.50 420.50V60.00" stroke-dashoffset="0.5"/>
<path d="M462.50 420.50V60.00" stroke-dashoffset="0.5"/>
<path d="M472.50 420.50V60.00" stroke-dashoffset="0.5"/>
<path d="M481.50 420.50V60.00" stroke-dashoffset="0.5"/>
<path d="M489.50 420.50V60.00" stroke-dashoffset="0.5"/>
<path d="M496.50 420.50V60.00" stroke-dashoffset="0.5"/>
<path d="M502.50 420.50V60.00" stroke-dashoffset="0.5"/>
<path d="M543.50 420.50V60.00" stroke-dashoffset="0.5"/>
<path d="M567.50 420.50V60.00" stroke-dashoffset="0.5"/>
<path d="M584.50 420.50V60.00" stroke-dashoffset="0.5"/>
<path d="M597.50 420.50V60.00" stroke-dashoffset="0.5"/>
<path d="M608.50 420.50V60.00" stroke-dashoffset="0.5"/>
<path d="M617.50 420.50V60.00" stroke-dashoffset="0.5"/>
<path d="M625.50 420.50V60.00" stroke-dashoffset="0.5"/>
<path d="M632.50 420.50V60.00" stroke-dashoffset="0.5"/>
<path d="M638.50 420.50V60.00" stroke-dashoffset="0.5"/>
<path d="M96.50 372.50H672.00"/>
<path d="M96.50 324.50H672.00"/>
<path d="M96.50 276.50H672.00"/>
<path d="M96.50 228.50H672.00"/>
<path d="M96.50 180.50H672.00"/>
<path d="M96.50 132.50H672.00"/>
<path d="M96.50 84.50H672.00"/>
</g>
<g clip-path="url(#ax)" fill="none" stroke="#666666" stroke-width="2.78" stroke-linejoin="round" stroke-linecap="square">
<polyline points="231.44,159.60 277.82,173.77 299.86,205.20 353.75,228.00 445.40,175.19 456.64,171.59 475.14,182.40 488.45,212.39 527.71,228.01 543.09,272.39 712.24,242.41"/>
<polyline points="231.44,343.20 262.65,340.08 312.98,340.07 353.75,346.08 379.53,332.87 418.37,296.75 452.67,278.64 461.54,278.63 472.27,297.60 502.32,333.00 513.04,338.99 528.47,329.11 548.42,366.01 569.99,383.99 590.79,390.00 616.77,390.00 638.34,384.00 663.15,383.97 707.62,389.98"/>
</g>
<g clip-path="url(#ax)" fill="none" stroke="#000" stroke-width="1.39" stroke-linejoin="round" stroke-linecap="square">
<polyline points="95.55,217.40 100.65,217.80 105.75,219.10 110.85,219.80 115.95,220.30 121.05,231.60 126.15,229.20 131.25,229.20 136.35,231.60 141.45,236.40 146.55,236.40 151.65,238.80 156.75,246.00 161.85,241.20 166.95,250.80 172.05,255.60 177.15,243.60 182.25,246.00 187.35,260.40 192.45,260.40 197.55,260.40 202.65,260.40 207.75,260.40 212.85,260.40 217.95,260.40 223.05,260.40 228.15,258.00 233.25,258.00 238.35,258.00 243.45,258.00 248.55,258.00 253.65,258.00 258.75,258.00 263.85,258.00 268.95,258.00 274.05,255.60 279.15,255.60 284.25,255.60 289.35,255.60 294.45,255.60 299.55,255.60 304.65,253.20 309.75,253.20 314.85,253.20 319.95,253.20 325.05,253.20 330.15,250.80 335.25,250.80 340.35,250.80 345.45,250.80 350.55,248.40 355.65,248.40 360.75,248.40 365.85,246.00 370.95,246.00 376.05,246.00 381.15,243.60 386.25,243.60 391.35,243.60 396.45,241.20 401.55,241.20 406.65,241.20 411.75,238.80 416.85,236.40 421.95,236.40 427.05,234.00 432.15,231.60 437.25,231.60 442.35,229.20 447.45,229.20 452.55,229.20 457.65,226.80 462.75,226.80 467.85,224.40 472.95,224.40 478.05,224.40 483.15,222.00 488.25,222.00 493.35,222.00 498.45,222.00 503.55,219.60 508.65,219.60 513.75,217.20 518.85,217.20 523.95,217.20 529.05,214.80 534.15,214.80 539.25,214.80 544.35,212.40 549.45,212.40 554.55,210.00 559.65,207.60 564.75,207.60 569.85,207.60 574.95,205.20 580.05,205.20 585.15,202.80 590.25,202.80 595.35,200.40 600.45,200.40 605.55,195.60 610.65,195.60 615.75,195.60 620.85,195.60 625.95,190.80 631.05,190.80 636.15,190.80 641.25,190.80 646.35,190.80 651.45,190.80 656.55,190.80 661.65,190.80 666.75,190.80"/>
<polyline points="95.55,214.50 100.65,215.75 105.75,217.25 110.85,218.00 115.95,218.30 121.05,226.50 126.15,226.00 131.25,226.00 136.35,227.50 141.45,229.40 146.55,231.25 151.65,233.00 156.75,235.00 161.85,236.75 166.95,238.25 172.05,240.00 177.15,241.75 182.25,243.25 187.35,245.25 192.45,246.75 197.55,248.25 202.65,249.75 207.75,251.00 212.85,252.75 217.95,254.00 223.05,255.50 228.15,256.50 233.25,257.30 238.35,257.16 243.45,257.14 248.55,257.11 253.65,257.08 258.75,257.06 263.85,257.03 268.95,257.01 274.05,255.58 279.15,254.87 284.25,254.83 289.35,254.79 294.45,254.75 299.55,254.70 304.65,252.70 309.75,252.70 314.85,252.70 319.95,252.70 325.05,252.70 330.15,250.40 335.25,250.40 340.35,250.40 345.45,250.40 350.55,248.32 355.65,247.55 360.75,246.83 365.85,246.34 370.95,245.86 376.05,245.38 381.15,244.82 386.25,244.03 391.35,243.24 396.45,242.45 401.55,241.42 406.65,239.82 411.75,238.23 416.85,236.63 421.95,235.16 427.05,233.89 432.15,232.61 437.25,231.34 442.35,230.10 447.45,228.90 452.55,227.71 457.65,226.69 462.75,226.06 467.85,225.42 472.95,224.78 478.05,224.08 483.15,223.29 488.25,222.50 493.35,221.71 498.45,220.91 503.55,220.11 508.65,219.31 513.75,218.50 518.85,217.53 523.95,216.43 529.05,215.32 534.15,214.38 539.25,213.53 544.35,212.68 549.45,211.17 554.55,209.57 559.65,208.48 564.75,207.61 569.85,206.76 574.95,205.51 580.05,203.99 585.15,202.61 590.25,201.34 595.35,200.27 600.45,198.95 605.55,194.05 610.65,194.05 615.75,194.05 620.85,194.05 625.95,190.44 631.05,190.35 636.15,190.30 641.25,190.25 646.35,190.20 651.45,190.15 656.55,190.10 661.65,190.05 666.75,190.00"/>
</g>
<path d="M96.50 420.50v-5.56M96.50 60.50v5.56M137.50 420.50v-2.78M137.50 60.50v2.78M161.50 420.50v-2.78M161.50 60.50v2.78M178.50 420.50v-2.78M178.50 60.50v2.78M191.50 420.50v-2.78M191.50 60.50v2.78M201.50 420.50v-2.78M201.50 60.50v2.78M210.50 420.50v-2.78M210.50 60.50v2.78M218.50 420.50v-2.78M218.50 60.50v2.78M225.50 420.50v-2.78M225.50 60.50v2.78M231.50 420.50v-5.56M231.50 60.50v5.56M272.50 420.50v-2.78M272.50 60.50v2.78M296.50 420.50v-2.78M296.50 60.50v2.78M313.50 420.50v-2.78M313.50 60.50v2.78M326.50 420.50v-2.78M326.50 60.50v2.78M337.50 420.50v-2.78M337.50 60.50v2.78M346.50 420.50v-2.78M346.50 60.50v2.78M354.50 420.50v-2.78M354.50 60.50v2.78M361.50 420.50v-2.78M361.50 60.50v2.78M367.50 420.50v-5.56M367.50 60.50v5.56M408.50 420.50v-2.78M408.50 60.50v2.78M431.50 420.50v-2.78M431.50 60.50v2.78M448.50 420.50v-2.78M448.50 60.50v2.78M462.50 420.50v-2.78M462.50 60.50v2.78M472.50 420.50v-2.78M472.50 60.50v2.78M481.50 420.50v-2.78M481.50 60.50v2.78M489.50 420.50v-2.78M489.50 60.50v2.78M496.50 420.50v-2.78M496.50 60.50v2.78M502.50 420.50v-5.56M502.50 60.50v5.56M543.50 420.50v-2.78M543.50 60.50v2.78M567.50 420.50v-2.78M567.50 60.50v2.78M584.50 420.50v-2.78M584.50 60.50v2.78M597.50 420.50v-2.78M597.50 60.50v2.78M608.50 420.50v-2.78M608.50 60.50v2.78M617.50 420.50v-2.78M617.50 60.50v2.78M625.50 420.50v-2.78M625.50 60.50v2.78M632.50 420.50v-2.78M632.50 60.50v2.78M638.50 420.50v-5.56M638.50 60.50v5.56M96.50 420.50h5.56M672.50 420.50h-5.56M96.50 372.50h5.56M672.50 372.50h-5.56M96.50 324.50h5.56M672.50 324.50h-5.56M96.50 276.50h5.56M672.50 276.50h-5.56M96.50 228.50h5.56M672.50 228.50h-5.56M96.50 180.50h5.56M672.50 180.50h-5.56M96.50 132.50h5.56M672.50 132.50h-5.56M96.50 84.50h5.56M672.50 84.50h-5.56" stroke="#000" stroke-width="0.69" fill="none"/>
<rect x="96.50" y="60.50" width="576.00" height="360.00" fill="none" stroke="#000" stroke-width="1.39"/>
<text transform="translate(95.30 437.90) scale(1 1.080)" text-anchor="middle">0<tspan dx="-1.1">.</tspan>01</text>
<text transform="translate(230.89 437.90) scale(1 1.080)" text-anchor="middle">0<tspan dx="-1.1">.</tspan>1</text>
<text transform="translate(367.08 437.90) scale(1 1.080)" text-anchor="middle">1</text>
<text transform="translate(502.32 437.90) scale(1 1.080)" text-anchor="middle">10</text>
<text transform="translate(637.45 437.90) scale(1 1.080)" text-anchor="middle">100</text>
<text transform="translate(90.84 425.60) scale(1 1.080)" text-anchor="end"><tspan dy="0.7">−</tspan><tspan dx="-1.1" dy="-0.7">200</tspan></text>
<text transform="translate(90.84 377.60) scale(1 1.080)" text-anchor="end"><tspan dy="0.7">−</tspan><tspan dx="-1.1" dy="-0.7">180</tspan></text>
<text transform="translate(90.84 329.60) scale(1 1.080)" text-anchor="end"><tspan dy="0.7">−</tspan><tspan dx="-1.1" dy="-0.7">160</tspan></text>
<text transform="translate(90.84 281.60) scale(1 1.080)" text-anchor="end"><tspan dy="0.7">−</tspan><tspan dx="-1.1" dy="-0.7">140</tspan></text>
<text transform="translate(90.84 233.60) scale(1 1.080)" text-anchor="end"><tspan dy="0.7">−</tspan><tspan dx="-1.1" dy="-0.7">120</tspan></text>
<text transform="translate(90.84 185.60) scale(1 1.080)" text-anchor="end"><tspan dy="0.7">−</tspan><tspan dx="-1.1" dy="-0.7">100</tspan></text>
<text transform="translate(90.84 137.60) scale(1 1.080)" text-anchor="end"><tspan dy="0.7">−</tspan><tspan dx="-1.1" dy="-0.7">80</tspan></text>
<text transform="translate(90.84 89.60) scale(1 1.080)" text-anchor="end"><tspan dy="0.7">−</tspan><tspan dx="-1.1" dy="-0.7">60</tspan></text>
<text transform="translate(384.30 459.20) scale(1 1.080)" text-anchor="middle">Period [s]</text>
<text transform="translate(384.60 53.06)" text-anchor="middle" font-size="20.07">GU.CANI..HNN   2025-10-19 -- 2025-10-19  (79/79 segments)</text>
<g transform="translate(31.00 353.00) rotate(-90)">
<text transform="translate(0.00 0.00) scale(1.000 1.080)">Amplitude<tspan dx="-1.4"> [</tspan></text>
<text transform="translate(95.60 0.00) scale(1.060 1.000)" font-family="&apos;Liberation Serif&apos;,&apos;DejaVu Serif&apos;,serif" font-style="italic" font-size="17.50">m</text>
<text transform="translate(108.60 -7.40) scale(1.100 1.000)" font-family="&apos;Liberation Serif&apos;,&apos;DejaVu Serif&apos;,serif" font-size="12.50">2</text>
<text transform="translate(121.60 3.40) scale(1.250 1.420)" font-weight="200" font-family="&apos;DejaVu Sans&apos;,sans-serif">/</text>
<text transform="translate(130.60 0.00) scale(1.180 1.000)" font-family="&apos;Liberation Serif&apos;,&apos;DejaVu Serif&apos;,serif" font-style="italic" font-size="17.50">s</text>
<text transform="translate(137.60 -7.40) scale(1.000 1.000)" font-family="&apos;Liberation Serif&apos;,&apos;DejaVu Serif&apos;,serif" font-size="12.50">4</text>
<text transform="translate(149.40 3.40) scale(1.250 1.420)" font-weight="200" font-family="&apos;DejaVu Sans&apos;,sans-serif">/</text>
<text transform="translate(156.60 0.00) scale(1.220 1.080)" font-family="&apos;Liberation Serif&apos;,&apos;DejaVu Serif&apos;,serif" font-style="italic" font-size="17.50">H</text>
<text transform="translate(171.90 0.00) scale(1.000 0.950)" font-family="&apos;Liberation Serif&apos;,&apos;DejaVu Serif&apos;,serif" font-style="italic">z</text>
<text transform="translate(178.20 0.00) scale(1.000 1.080)">] [dB]</text>
</g>
<rect x="708.00" y="60.00" width="18.00" height="360.00" fill="url(#cbg)"/>
<path d="M726.50 420.50h-5.56M726.50 384.50h-5.56M726.50 348.50h-5.56M726.50 312.50h-5.56M726.50 276.50h-5.56M726.50 240.50h-5.56M726.50 204.50h-5.56M726.50 168.50h-5.56M726.50 132.50h-5.56M726.50 96.50h-5.56M726.50 60.50h-5.56" stroke="#000" stroke-width="0.69" fill="none"/>
<rect x="708.50" y="60.50" width="18.00" height="360.00" fill="none" stroke="#000" stroke-width="1.39"/>
<text transform="translate(730.06 425.60) scale(1 1.080)">0</text>
<text transform="translate(730.06 389.60) scale(1 1.080)">3</text>
<text transform="translate(730.06 353.60) scale(1 1.080)">6</text>
<text transform="translate(730.06 317.60) scale(1 1.080)">9</text>
<text transform="translate(730.06 281.60) scale(1 1.080)">12</text>
<text transform="translate(730.06 245.60) scale(1 1.080)">15</text>
<text transform="translate(730.06 209.60) scale(1 1.080)">18</text>
<text transform="translate(730.06 173.60) scale(1 1.080)">21</text>
<text transform="translate(730.06 137.60) scale(1 1.080)">24</text>
<text transform="translate(730.06 101.60) scale(1 1.080)">27</text>
<text transform="translate(730.06 65.60) scale(1 1.080)">30</text>
<text transform="translate(770.37 240.30) rotate(-90) scale(1 1.080)" text-anchor="middle">[%]</text>
<rect x="120.00" y="474.00" width="560.00" height="10.00" fill="#008000"/>
<rect x="120.00" y="484.00" width="554.00" height="14.00" fill="#0000ff"/>
<path d="M168.50 498.50v-5.56M168.50 474.50v5.56M214.50 498.50v-5.56M214.50 474.50v5.56M261.50 498.50v-5.56M261.50 474.50v5.56M307.50 498.50v-5.56M307.50 474.50v5.56M354.50 498.50v-5.56M354.50 474.50v5.56M400.50 498.50v-5.56M400.50 474.50v5.56M447.50 498.50v-5.56M447.50 474.50v5.56M494.50 498.50v-5.56M494.50 474.50v5.56M540.50 498.50v-5.56M540.50 474.50v5.56M587.50 498.50v-5.56M587.50 474.50v5.56M633.50 498.50v-5.56M633.50 474.50v5.56M680.50 498.50v-5.56M680.50 474.50v5.56" stroke="#000" stroke-width="0.69" fill="none"/>
<rect x="120.50" y="474.50" width="560.00" height="24.00" fill="none" stroke="#000" stroke-width="1.39"/>
<text transform="translate(102.17 551.05) rotate(-30)" font-size="16.37">02:00:00</text>
<text transform="translate(148.75 551.05) rotate(-30)" font-size="16.37">04:00:00</text>
<text transform="translate(195.33 551.05) rotate(-30)" font-size="16.37">06:00:00</text>
<text transform="translate(241.91 551.05) rotate(-30)" font-size="16.37">08:00:00</text>
<text transform="translate(288.49 551.05) rotate(-30)" font-size="16.37">10:00:00</text>
<text transform="translate(335.07 551.05) rotate(-30)" font-size="16.37">12:00:00</text>
<text transform="translate(381.65 551.05) rotate(-30)" font-size="16.37">14:00:00</text>
<text transform="translate(428.23 551.05) rotate(-30)" font-size="16.37">16:00:00</text>
<text transform="translate(474.81 551.05) rotate(-30)" font-size="16.37">18:00:00</text>
<text transform="translate(521.39 551.05) rotate(-30)" font-size="16.37">20:00:00</text>
<text transform="translate(567.97 551.05) rotate(-30)" font-size="16.37">22:00:00</text>
<text transform="translate(614.55 551.05) rotate(-30)" font-size="16.37">00:00:00</text>
</svg></body></html>
